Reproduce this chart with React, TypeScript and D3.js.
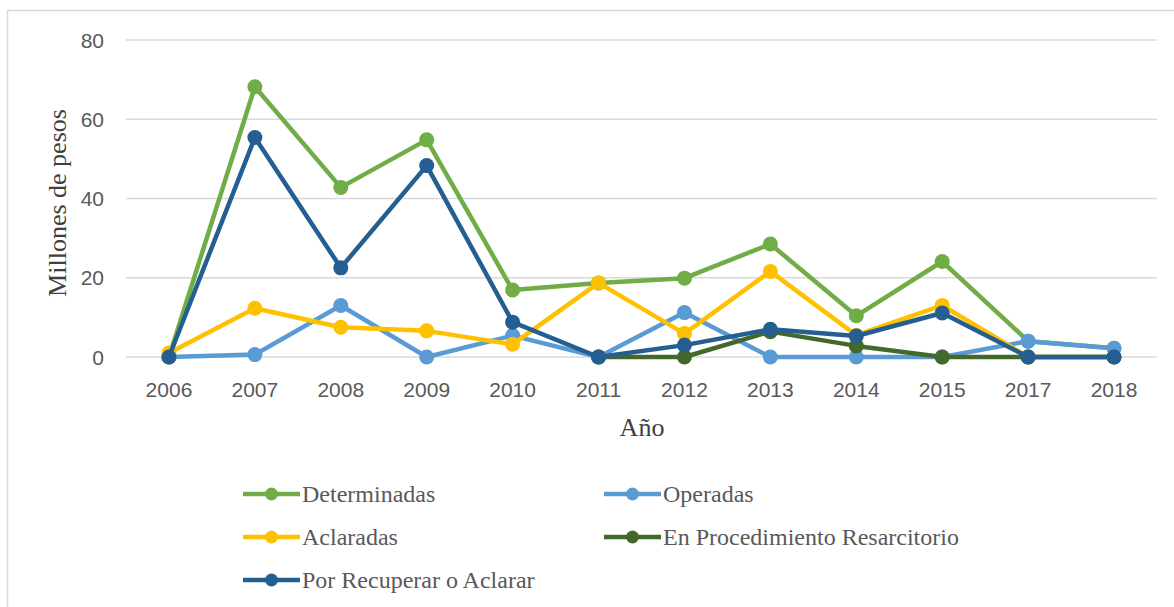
import { useEffect, useRef } from "react";
import * as d3 from "d3";

const years = ["2006", "2007", "2008", "2009", "2010", "2011", "2012", "2013", "2014", "2015", "2017", "2018"];

const determinadas = [0, 68.2, 42.8, 54.8, 16.9, 18.7, 19.9, 28.5, 10.4, 24.1, 4.0, 2.2];
const operadas = [0, 0.6, 13.0, 0, 5.4, 0, 11.2, 0, 0, 0, 4.0, 2.2];
const aclaradas = [1.0, 12.3, 7.5, 6.6, 3.2, 18.7, 5.9, 21.6, 5.5, 13.0, 0, 0];
const resarcitorio = [null, null, null, null, null, 0, 0, 6.4, 2.8, 0, 0, 0];
const porRecuperar = [0, 55.4, 22.5, 48.3, 8.8, 0, 3.0, 7.0, 5.3, 11.1, 0, 0];

const yTicks = [0, 20, 40, 60, 80];

const series = [
  { name: "Determinadas", values: determinadas, color: "#70AD47" },
  { name: "Operadas", values: operadas, color: "#5B9BD5" },
  { name: "Aclaradas", values: aclaradas, color: "#FFC000" },
  { name: "En Procedimiento Resarcitorio", values: resarcitorio, color: "#43682B" },
  { name: "Por Recuperar o Aclarar", values: porRecuperar, color: "#255E91" },
];

export default function App() {
  const ref = useRef<SVGSVGElement>(null);

  useEffect(() => {
    const svg = d3.select(ref.current);
    svg.selectAll("*").remove();

    // outer chart border
    svg
      .append("rect")
      .attr("x", 7.5)
      .attr("y", 10.5)
      .attr("width", 1200)
      .attr("height", 640)
      .attr("fill", "#fff")
      .attr("stroke", "#d9d9d9")
      .attr("stroke-width", 1.5);

    const x = d3.scaleBand().domain(years).range([126, 1157]);
    const y = d3.scaleLinear().domain([0, 80]).range([357, 40]);
    const cx = (i: number) => x(years[i])! + x.bandwidth() / 2;

    // gridlines + y labels
    svg
      .selectAll(".grid")
      .data(yTicks)
      .enter()
      .append("line")
      .attr("x1", 126)
      .attr("x2", 1157)
      .attr("y1", (d) => y(d))
      .attr("y2", (d) => y(d))
      .attr("stroke", "#d9d9d9")
      .attr("stroke-width", 1.5);

    svg
      .selectAll(".ylab")
      .data(yTicks)
      .enter()
      .append("text")
      .attr("x", 104)
      .attr("y", (d) => y(d))
      .attr("dy", "0.36em")
      .attr("text-anchor", "end")
      .attr("font-family", "'Liberation Sans', Arial, sans-serif")
      .attr("font-size", 21)
      .attr("fill", "#595959")
      .text((d) => d);

    svg
      .selectAll(".xlab")
      .data(years)
      .enter()
      .append("text")
      .attr("x", (d) => x(d)! + x.bandwidth() / 2)
      .attr("y", 397)
      .attr("text-anchor", "middle")
      .attr("font-family", "'Liberation Sans', Arial, sans-serif")
      .attr("font-size", 21)
      .attr("fill", "#595959")
      .text((d) => d);

    // axis titles
    svg
      .append("text")
      .attr("transform", "translate(66,203) rotate(-90)")
      .attr("text-anchor", "middle")
      .attr("font-family", "'Liberation Serif', 'Times New Roman', serif")
      .attr("font-size", 26)
      .attr("fill", "#404040")
      .text("Millones de pesos");

    svg
      .append("text")
      .attr("x", 642)
      .attr("y", 436)
      .attr("text-anchor", "middle")
      .attr("font-family", "'Liberation Serif', 'Times New Roman', serif")
      .attr("font-size", 26)
      .attr("fill", "#404040")
      .text("Año");

    // lines
    const line = d3
      .line<number | null>()
      .defined((d) => d !== null)
      .x((_, i) => cx(i))
      .y((d) => y(d as number));

    series.forEach((s) => {
      const g = svg.append("g");
      g.append("path")
        .attr("d", line(s.values))
        .attr("fill", "none")
        .attr("stroke", s.color)
        .attr("stroke-width", 4.5)
        .attr("stroke-linejoin", "round");
      g.selectAll("circle")
        .data(s.values.map((v, i) => ({ v, i })).filter((d) => d.v !== null))
        .enter()
        .append("circle")
        .attr("cx", (d) => cx(d.i))
        .attr("cy", (d) => y(d.v as number))
        .attr("r", 7.5)
        .attr("fill", s.color);
    });

    // legend
    const legendPos = [
      [243, 494],
      [604, 494],
      [243, 537],
      [604, 537],
      [243, 580],
    ];
    series.forEach((s, i) => {
      const [lx, ly] = legendPos[i];
      const g = svg.append("g");
      g.append("line")
        .attr("x1", lx)
        .attr("x2", lx + 57)
        .attr("y1", ly)
        .attr("y2", ly)
        .attr("stroke", s.color)
        .attr("stroke-width", 4.5);
      g.append("circle").attr("cx", lx + 28.5).attr("cy", ly).attr("r", 6.5).attr("fill", s.color);
      g.append("text")
        .attr("x", lx + 59)
        .attr("y", ly)
        .attr("dy", "0.33em")
        .attr("font-family", "'Liberation Serif', 'Times New Roman', serif")
        .attr("font-size", 24)
        .attr("fill", "#595959")
        .text(s.name);
    });
  }, []);

  return (
    <svg
      ref={ref}
      width={1174}
      height={607}
      style={{ position: "absolute", left: 0, top: 0, display: "block" }}
    />
  );
}
